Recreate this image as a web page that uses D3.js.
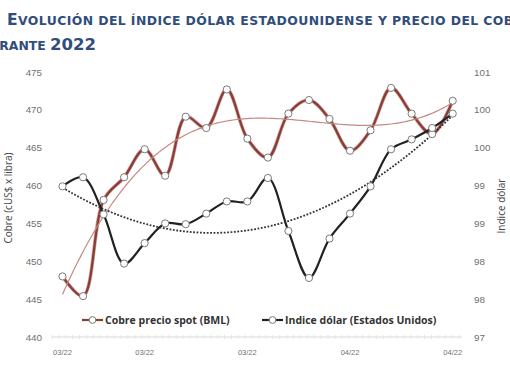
<!DOCTYPE html>
<html><head><meta charset="utf-8">
<script src="https://cdn.jsdelivr.net/npm/d3@7"></script>
<style>body{margin:0;background:#fff}svg{display:block}</style>
</head><body>
<svg id="c" width="510" height="382"></svg>
<script>
const xIndex = d3.range(20);
const xTickIdx = [0, 4, 9, 14, 19];
const xTickLabels = ["03/22", "03/22", "03/22", "04/22", "04/22"];
const cobre = [448.0, 445.4, 458.1, 461.1, 464.8, 461.3, 469.1, 467.6, 472.7, 466.2,
               463.7, 469.5, 471.3, 468.8, 464.6, 467.3, 472.9, 469.5, 466.8, 471.2];
const dolar = [98.99, 99.11, 98.62, 97.97, 98.24, 98.50, 98.49, 98.63, 98.79, 98.79,
               99.10, 98.40, 97.78, 98.30, 98.63, 98.99, 99.48, 99.61, 99.76, 99.95];
const leftTicks = [440, 445, 450, 455, 460, 465, 470, 475];
const rightTicks = [97, 97.5, 98, 98.5, 99, 99.5, 100, 100.5];
const seriesNames = ["Cobre precio spot (BML)", "Indice dólar (Estados Unidos)"];

const svg = d3.select("#c");
const x = d3.scaleLinear().domain([0, 19]).range([62.5, 452.7]);
const yL = d3.scaleLinear().domain([440, 475]).range([337, 72]);
const yR = d3.scaleLinear().domain([97, 100.5]).range([337, 72]);

// polynomial least squares
function polyfit(xs, ys, deg) {
  const n = deg + 1;
  const A = Array.from({length: n}, () => new Array(n + 1).fill(0));
  xs.forEach((xv, k) => {
    for (let i = 0; i < n; i++) {
      for (let j = 0; j < n; j++) A[i][j] += Math.pow(xv, i + j);
      A[i][n] += ys[k] * Math.pow(xv, i);
    }
  });
  for (let i = 0; i < n; i++) {
    let p = i;
    for (let r = i + 1; r < n; r++) if (Math.abs(A[r][i]) > Math.abs(A[p][i])) p = r;
    [A[i], A[p]] = [A[p], A[i]];
    for (let r = 0; r < n; r++) {
      if (r === i) continue;
      const f = A[r][i] / A[i][i];
      for (let c = i; c <= n; c++) A[r][c] -= f * A[i][c];
    }
  }
  return A.map((row, i) => row[n] / row[i]);
}
const evalPoly = (c, t) => c.reduce((s, ci, i) => s + ci * Math.pow(t, i), 0);
const xs1 = xIndex.map(i => i + 1);
const cR = polyfit(xs1, cobre, 3);
const cB = polyfit(xs1, dolar, 2);
const fine = d3.range(0, 19.001, 0.1);

// title
const title = svg.append("text").attr("fill", "#304d7c").attr("font-family", "DejaVu Sans")
  .attr("font-weight", "bold").attr("x", 7).attr("y", 25).attr("letter-spacing", 0.42);
function smallCaps(t, words, big, small) {
  words.forEach((w, wi) => {
    const chars = w.split("");
    chars.forEach((ch, ci) => {
      const isBig = (ci === 0 && wi === 0) || /[0-9]/.test(ch);
      t.append("tspan").attr("font-size", isBig ? big : small).text(ch.toUpperCase());
    });
    if (wi < words.length - 1) t.append("tspan").attr("font-size", small).text(" ");
  });
}
smallCaps(title, "Evolución del índice dólar estadounidense y precio del cobre".split(" "), 15.5, 12.4);
const title2 = svg.append("text").attr("fill", "#304d7c").attr("font-family", "DejaVu Sans")
  .attr("font-weight", "bold").attr("x", 96).attr("y", 50).attr("text-anchor", "end");
title2.append("tspan").attr("font-size", 12.4).text("DURANTE ");
title2.append("tspan").attr("font-size", 16.5).text("2022");

// x axis line
svg.append("line").attr("x1", 52).attr("x2", 462).attr("y1", 337).attr("y2", 337)
  .attr("stroke", "#d9d9d9").attr("stroke-width", 1);
svg.append("g").selectAll("line").data(d3.range(52, 462, 6.9)).join("line")
  .attr("x1", d => d).attr("x2", d => d).attr("y1", 335).attr("y2", 339)
  .attr("stroke", "#e4e4e4").attr("stroke-width", 1);

const tickFont = "Liberation Sans";
svg.append("g").selectAll("text").data(leftTicks).join("text")
  .attr("x", 42).attr("y", d => yL(d) + 3.5).attr("text-anchor", "end")
  .attr("font-family", tickFont).attr("font-size", 9.8).attr("fill", "#6f6f6f").text(d => d);
svg.append("g").selectAll("text").data(rightTicks).join("text")
  .attr("x", 474).attr("y", d => yR(d) + 3.5).attr("text-anchor", "start")
  .attr("font-family", tickFont).attr("font-size", 9.8).attr("fill", "#6f6f6f").text(d => Math.round(d));
svg.append("g").selectAll("text").data(xTickIdx).join("text")
  .attr("x", d => x(d)).attr("y", 355).attr("text-anchor", "middle")
  .attr("font-family", tickFont).attr("font-size", 7.5).attr("fill", "#6f6f6f")
  .text((d, i) => xTickLabels[i]);

svg.append("text").attr("transform", "translate(12,198) rotate(-90)").attr("text-anchor", "middle")
  .attr("font-family", "Open Sans").attr("font-size", 10).attr("fill", "#444").text("Cobre (cUS$ x libra)");
svg.append("text").attr("transform", "translate(505,206) rotate(-90)").attr("text-anchor", "middle")
  .attr("font-family", "Open Sans").attr("font-size", 10).attr("fill", "#444").text("Indice dólar");

const redC = "#8c3b35", blkC = "#222";
const lineL = d3.line().x((d, i) => x(i)).y(d => yL(d)).curve(d3.curveCatmullRom.alpha(0.5));
const lineR = d3.line().x((d, i) => x(i)).y(d => yR(d)).curve(d3.curveCatmullRom.alpha(0.5));

svg.append("path").attr("d", lineL(cobre)).attr("fill", "none").attr("stroke", "#c9a29e").attr("stroke-width", 3.6);
svg.append("path").attr("d", lineL(cobre)).attr("fill", "none").attr("stroke", redC).attr("stroke-width", 2.2);
svg.append("path").attr("d", lineR(dolar)).attr("fill", "none").attr("stroke", blkC).attr("stroke-width", 2.2);

// trendlines
svg.append("path").attr("d", d3.line().x(t => x(t)).y(t => yL(evalPoly(cR, t + 1)))(fine))
  .attr("fill", "none").attr("stroke", "#c48a82").attr("stroke-width", 1.2);
svg.append("path").attr("d", d3.line().x(t => x(t)).y(t => yR(evalPoly(cB, t + 1)))(fine))
  .attr("fill", "none").attr("stroke", "#333").attr("stroke-width", 1.8).attr("stroke-dasharray", "1.8,1.6");

svg.append("g").selectAll("circle").data(cobre).join("circle")
  .attr("cx", (d, i) => x(i)).attr("cy", d => yL(d)).attr("r", 3.6)
  .attr("fill", "#fff").attr("stroke", "#7a7a7a").attr("stroke-width", 1);
svg.append("g").selectAll("circle").data(dolar).join("circle")
  .attr("cx", (d, i) => x(i)).attr("cy", d => yR(d)).attr("r", 3.6)
  .attr("fill", "#fff").attr("stroke", "#7a7a7a").attr("stroke-width", 1);

// legend
const leg = [{x0: 82, c: redC, name: seriesNames[0]}, {x0: 262, c: blkC, name: seriesNames[1]}];
leg.forEach(l => {
  svg.append("line").attr("x1", l.x0).attr("x2", l.x0 + 21).attr("y1", 320).attr("y2", 320)
    .attr("stroke", l.c).attr("stroke-width", 2.2);
  svg.append("circle").attr("cx", l.x0 + 10.5).attr("cy", 320).attr("r", 3.4)
    .attr("fill", "#fff").attr("stroke", "#7a7a7a");
  svg.append("text").attr("x", l.x0 + 23).attr("y", 324).attr("font-family", "Open Sans")
    .attr("font-weight", "bold").attr("font-size", 10.5).attr("fill", "#333").text(l.name);
});
</script>
</body></html>
